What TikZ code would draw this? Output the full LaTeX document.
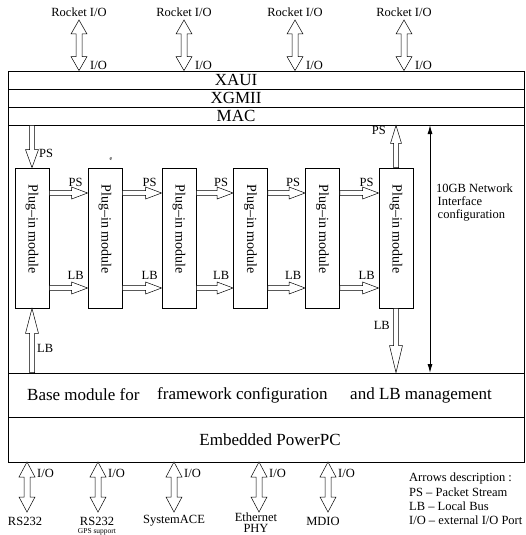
\documentclass[tikz,border=0pt]{standalone}
\usepackage{fontspec}
\setmainfont{Liberation Serif}
\usetikzlibrary{calc,arrows.meta}
\tikzset{
  harr/.style n args={3}{to path={
    ($(\tikztostart)!#1!90:(\tikztotarget)$)
    -- ($(\tikztotarget)!#3!(\tikztostart)!#1!90:(\tikztotarget)$)
    -- ($(\tikztotarget)!#3!(\tikztostart)!#2!90:(\tikztotarget)$)
    -- (\tikztotarget)
    -- ($(\tikztotarget)!#3!(\tikztostart)!#2!-90:(\tikztotarget)$)
    -- ($(\tikztotarget)!#3!(\tikztostart)!#1!-90:(\tikztotarget)$)
    -- ($(\tikztostart)!#1!-90:(\tikztotarget)$)
    -- cycle}},
  dblarr/.style n args={3}{to path={
    (\tikztostart)
    -- ($(\tikztostart)!#3!(\tikztotarget)!#2!90:(\tikztotarget)$)
    -- ($(\tikztostart)!#3!(\tikztotarget)!#1!90:(\tikztotarget)$)
    -- ($(\tikztotarget)!#3!(\tikztostart)!#1!90:(\tikztotarget)$)
    -- ($(\tikztotarget)!#3!(\tikztostart)!#2!90:(\tikztotarget)$)
    -- (\tikztotarget)
    -- ($(\tikztotarget)!#3!(\tikztostart)!#2!-90:(\tikztotarget)$)
    -- ($(\tikztotarget)!#3!(\tikztostart)!#1!-90:(\tikztotarget)$)
    -- ($(\tikztostart)!#3!(\tikztotarget)!#1!-90:(\tikztotarget)$)
    -- ($(\tikztostart)!#3!(\tikztotarget)!#2!-90:(\tikztotarget)$)
    -- cycle}},
}
\begin{document}
\begin{tikzpicture}[x=1pt,y=-1pt,
  font=\fontsize{12.5}{14}\selectfont,
  band/.style={draw, line width=0.8pt, minimum width=516.5pt, inner sep=0pt},
  bandtext/.style={font=\fontsize{17}{20}\selectfont, inner sep=0pt},
  module/.style={draw, line width=0.8pt, fill=white, minimum width=34pt, minimum height=140pt, inner sep=0pt},
  modtext/.style={rotate=-90, font=\fontsize{14}{16}\selectfont, inner sep=0pt},
  hollow/.style={draw, fill=white, line width=0.5pt},
  lbl/.style={inner sep=0pt},
  small/.style={font=\fontsize{7.5}{8}\selectfont, inner sep=0pt}]
\useasboundingbox (0,0) rectangle (526,535);

% frame bands
\node[band, minimum height=18pt] (xaui) at (266.25,80) {};
\node[band, minimum height=18pt] (xgmii) at (266.25,98) {};
\node[band, minimum height=18pt] (mac) at (266.25,116) {};
\node[band, minimum height=248pt] (cfg) at (266.25,249) {};
\node[band, minimum height=44pt] (base) at (266.25,395) {};
\node[band, minimum height=45pt] (ppc) at (266.25,439.5) {};

\node[bandtext] (txaui) at (236,80) {XAUI};
\node[bandtext] (txgmii) at (236,98) {XGMII};
\node[bandtext] (tmac) at (236,116) {MAC};
\node[bandtext, anchor=west] (tb1) at (27,395) {Base module for};
\node[bandtext, anchor=west] (tb2) at (157,395) {framework configuration};
\node[bandtext, anchor=west] (tb3) at (350,395) {and LB management};
\node[bandtext] (tppc) at (270,440) {Embedded PowerPC};

% plug-in modules
\foreach \i/\x in {1/32,2/105,3/179,4/250.5,5/322.5,6/396} {
  \node[module] (m\i) at (\x,238) {};
  \node[modtext] (t\i) at (\x,229) {Plug–in module};
}
\node[font=\fontsize{6}{7}\selectfont, inner sep=0pt] (ee) at (111,159) {e};

% horizontal PS / LB arrows
\foreach \i/\j in {1/2,2/3,3/4,4/5,5/6} {
  \coordinate (psa\i) at ($(m\i.east)+(0,-45)$);
  \coordinate (psb\i) at ($(m\j.west)+(0,-45)$);
  \draw[hollow] (psa\i) to[harr={2.3pt}{6pt}{16pt}] (psb\i);
  \node[lbl] (psl\i) at ($(psb\i)+(-12,-11)$) {PS};
  \coordinate (lba\i) at ($(m\i.east)+(0,50)$);
  \coordinate (lbb\i) at ($(m\j.west)+(0,50)$);
  \draw[hollow] (lba\i) to[harr={2.3pt}{6pt}{16pt}] (lbb\i);
  \node[lbl] (lbl\i) at ($(lbb\i)+(-12,-13)$) {LB};
}

% vertical PS / LB arrows
\coordinate (psin) at (m1.north |- mac.south);
\draw[hollow] (psin) to[harr={2.5pt}{6.5pt}{18pt}] (m1.north);
\node[lbl, anchor=west] (pslin) at (39,153) {PS};
\coordinate (lbin) at (m1.south |- base.north);
\draw[hollow] (lbin) to[harr={2.5pt}{6.5pt}{25pt}] (m1.south);
\node[lbl, anchor=west] (lblin) at (37,348) {LB};
\coordinate (psout) at (m6.north |- mac.south);
\draw[hollow] (m6.north) to[harr={2.5pt}{5.5pt}{18pt}] (psout);
\node[lbl, anchor=east] (pslout) at (386,130) {PS};
\coordinate (lbout) at (m6.south |- base.north);
\draw[hollow] (m6.south) to[harr={2.5pt}{6.5pt}{27pt}] (lbout);
\node[lbl, anchor=east] (lblout) at (390,325) {LB};

% network configuration span
\coordinate (na) at (430,125);
\coordinate (nb) at (430,373);
\draw[{Latex[length=9pt,width=5pt]}-{Latex[length=9pt,width=5pt]}, line width=1pt] (na) -- (nb);
\node[lbl, anchor=west] (net1) at (436,188) {10GB Network};
\node[lbl, anchor=west] (net2) at (437.5,201.5) {Interface};
\node[lbl, anchor=west] (net3) at (437.5,215) {configuration};

% top Rocket I/O arrows
\foreach \i/\x in {1/79,2/184,3/295,4/404} {
  \node[lbl] (r\i) at (\x,12) {Rocket I/O};
  \coordinate (rt\i) at (\x,20);
  \coordinate (rb\i) at (rt\i |- xaui.north);
  \draw[hollow] (rt\i) to[dblarr={3pt}{8pt}{14pt}] (rb\i);
  \node[lbl, anchor=west] (ri\i) at (\x+11,65) {I/O};
}

% bottom I/O arrows
\foreach \i/\x in {1/27,2/98,3/174,4/259,5/328} {
  \coordinate (bt\i) at (\x,462);
  \coordinate (bb\i) at (\x,512);
  \draw[hollow] (bt\i) to[dblarr={3pt}{8pt}{15pt}] (bb\i);
  \node[lbl, anchor=west] (bi\i) at (\x+10,473) {I/O};
}
\node[lbl] (d1) at (25,521) {RS232};
\node[lbl] (d2) at (97,521) {RS232};
\node[small] (d2b) at (97,531.5) {GPS support};
\node[lbl] (d3) at (174,521) {SystemACE};
\node[lbl] (d4) at (256,517) {Ethernet};
\node[lbl] (d4b) at (256,528.5) {PHY};
\node[lbl] (d5) at (323,521) {MDIO};

% legend
\node[lbl, anchor=west] (g1) at (409,478) {Arrows description :};
\node[lbl, anchor=west] (g2) at (409,492) {PS – Packet Stream};
\node[lbl, anchor=west] (g3) at (409,506) {LB – Local Bus};
\node[lbl, anchor=west] (g4) at (409,520) {I/O – external I/O Port};
\end{tikzpicture}
\end{document}
